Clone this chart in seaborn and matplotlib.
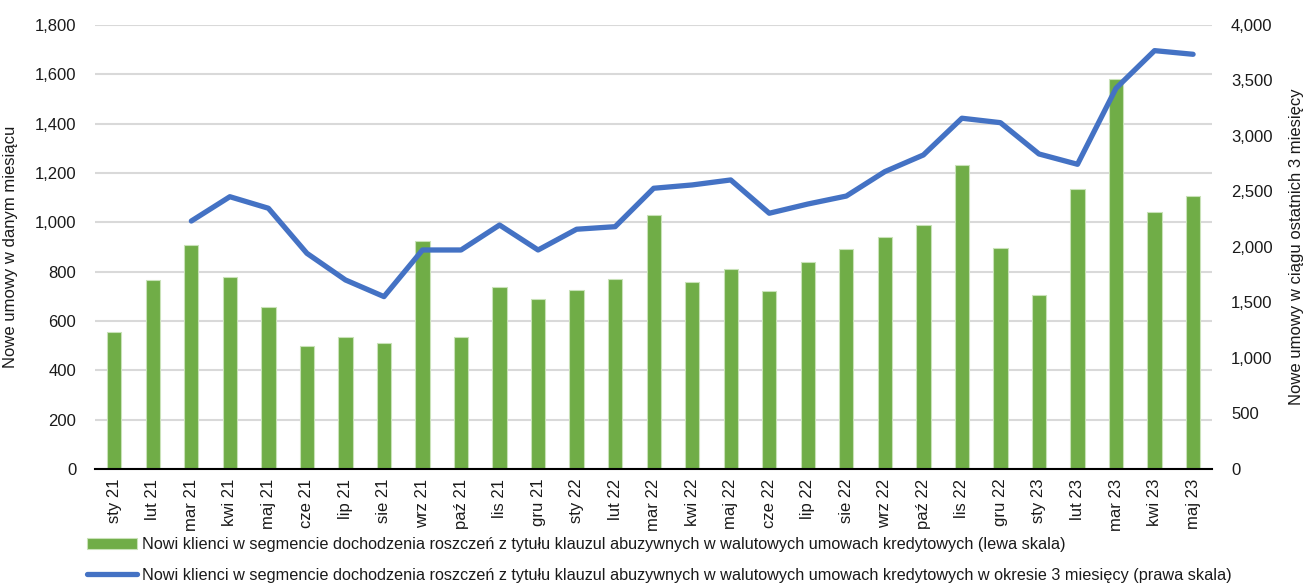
import numpy as np
import pandas as pd
import matplotlib
matplotlib.use("Agg")
import matplotlib.pyplot as plt
import seaborn as sns
from matplotlib.ticker import FuncFormatter, FixedLocator

months = ["sty 21", "lut 21", "mar 21", "kwi 21", "maj 21", "cze 21", "lip 21", "sie 21",
          "wrz 21", "paź 21", "lis 21", "gru 21", "sty 22", "lut 22", "mar 22", "kwi 22",
          "maj 22", "cze 22", "lip 22", "sie 22", "wrz 22", "paź 22", "lis 22", "gru 22",
          "sty 23", "lut 23", "mar 23", "kwi 23", "maj 23"]
monthly = [555, 766, 908, 778, 657, 499, 535, 511, 924, 535, 738, 689, 726, 770, 1030,
           760, 811, 722, 839, 892, 939, 989, 1232, 895, 704, 1135, 1580, 1041, 1107]
# 3-month sum, available from mar 21
three_month = [np.nan, np.nan, 2234, 2453, 2349, 1943, 1703, 1553, 1973, 1973, 2198, 1973,
               2160, 2183, 2529, 2559, 2604, 2304, 2387, 2459, 2679, 2829, 3160, 3120,
               2838, 2745, 3430, 3769, 3736]

label_bar = ("Nowi klienci w segmencie dochodzenia roszczeń z tytułu klauzul abuzywnych "
             "w walutowych umowach kredytowych (lewa skala)")
label_line = ("Nowi klienci w segmencie dochodzenia roszczeń z tytułu klauzul abuzywnych "
              "w walutowych umowach kredytowych w okresie 3 miesięcy (prawa skala)")

sns.set_style("white")
plt.rcParams['font.family'] = ['Liberation Sans', 'DejaVu Sans']
plt.rcParams['text.color'] = '#1a1a1a'
plt.rcParams['axes.labelcolor'] = '#1a1a1a'
plt.rcParams['xtick.color'] = '#1a1a1a'
plt.rcParams['ytick.color'] = '#1a1a1a'

df = pd.DataFrame({"month": months, "monthly": monthly, "three": three_month})
df["pos"] = np.arange(len(df))

fig = plt.figure(figsize=(13.05, 5.88), dpi=100)
ax = fig.add_axes([0.0728, 0.2024, 0.8562, 0.7551])
fs = 12

sns.barplot(data=df, x="month", y="monthly", color="#70AD47", width=0.37,
            edgecolor="#c9e2b8", linewidth=0.8, saturation=1, ax=ax, label=label_bar, zorder=2)
ax.set_ylim(0, 1800)
ax.set_xlim(-0.5, len(months) - 0.5)
ax.yaxis.set_major_locator(FixedLocator(np.arange(0, 1801, 200)))
ax.yaxis.set_major_formatter(FuncFormatter(lambda v, p: f"{int(v):,}"))
ax.grid(axis="y", color="#d9d9d9", linewidth=1.5, zorder=0)
ax.set_axisbelow(True)
ax.set_xlabel("")
ax.set_ylabel("Nowe umowy w danym miesiącu", fontsize=fs)
ax.yaxis.set_label_coords(-0.0689, 0.5)
ax.tick_params(axis="y", length=0, pad=13.5, labelsize=fs)
ax.tick_params(axis="x", which="major", length=0, pad=7, labelsize=fs, labelrotation=90)
ax.set_xticks(np.arange(-0.5, len(months)), minor=True)
ax.tick_params(axis="x", which="minor", length=6, width=1.5, color="black")
for s in ["left", "right", "top"]:
    ax.spines[s].set_visible(False)
ax.spines["bottom"].set_color("black")
ax.spines["bottom"].set_linewidth(1.5)
ax.spines["bottom"].set_zorder(5)

ax2 = ax.twinx()
sns.lineplot(data=df.dropna(), x="pos", y="three", color="#4472C4", linewidth=3.8,
             ax=ax2, label=label_line, legend=False)
ax2.set_ylim(0, 4000)
ax2.yaxis.set_major_locator(FixedLocator(np.arange(0, 4001, 500)))
ax2.yaxis.set_major_formatter(FuncFormatter(lambda v, p: f"{int(v):,}"))
ax2.set_xlabel("")
ax2.set_ylabel("Nowe umowy w ciągu ostatnich 3 miesięcy", fontsize=fs)
ax2.yaxis.set_label_coords(1.0685, 0.5)
ax2.tick_params(axis="y", length=0, pad=13.5, labelsize=fs)
ax2.grid(False)
for s in ["left", "right", "top", "bottom"]:
    ax2.spines[s].set_visible(False)
ax2.set_xlim(-0.5, len(months) - 0.5)

if ax.get_legend() is not None:
    ax.get_legend().remove()
h1, l1 = ax.get_legend_handles_labels()
h2, l2 = ax2.get_legend_handles_labels()
fig.legend(h1 + h2, l1 + l2, loc="center left", bbox_to_anchor=(0.0667, 0.0476),
           bbox_transform=fig.transFigure, frameon=False, fontsize=11.7, borderpad=0,
           borderaxespad=0, handlelength=3.1, handleheight=0.65, handletextpad=0.3,
           labelspacing=0.95)

fig.savefig("out.png", dpi=100)
